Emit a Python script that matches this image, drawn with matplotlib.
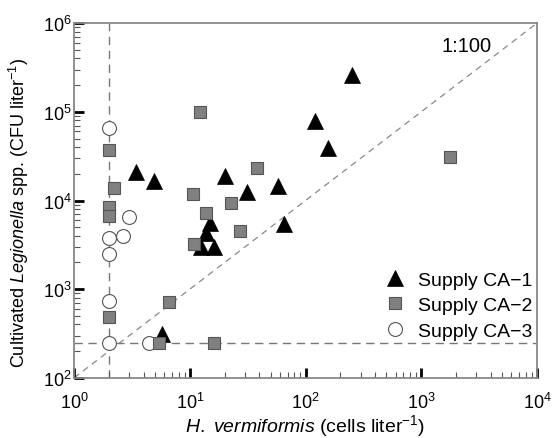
import matplotlib
matplotlib.use("Agg")
import matplotlib.pyplot as plt
import numpy as np

# Data
x_ca1 = [3.4, 4.9, 5.7, 12.5, 13.9, 14.9, 16.1, 20, 31, 58, 65, 120, 155, 250]
y_ca1 = [2.1e4, 1.67e4, 310, 3.0e3, 4.3e3, 5.6e3, 3.0e3, 1.87e4, 1.26e4, 1.47e4, 5.5e3, 7.9e4, 3.9e4, 2.6e5]

x_ca2 = [2.0, 2.0, 2.0, 2.0, 2.2, 5.4, 6.6, 10.7, 10.9, 12.2, 13.9, 16.3, 22.9, 27, 38, 1770]
y_ca2 = [3.7e4, 8.4e3, 6.7e3, 490, 1.4e4, 246, 725, 1.18e4, 3.24e3, 9.9e4, 7.2e3, 246, 9.3e3, 4.5e3, 2.3e4, 3.07e4]

x_ca3 = [2.0, 2.0, 2.0, 2.0, 2.0, 2.67, 2.97, 4.4]
y_ca3 = [6.5e4, 3.75e3, 2.5e3, 743, 246, 3.95e3, 6.5e3, 246]

labels = ["Supply CA\u22121", "Supply CA\u22122", "Supply CA\u22123"]
ratio = 100          # 1:100 line
x_limit_det = 2.0    # vertical detection limit
y_limit_det = 250    # horizontal detection limit

plt.rcParams['font.family'] = ['Liberation Sans', 'DejaVu Sans']
plt.rcParams['mathtext.fontset'] = 'custom'
plt.rcParams['mathtext.rm'] = 'Liberation Sans'
plt.rcParams['mathtext.it'] = 'Liberation Sans:italic'
plt.rcParams['mathtext.bf'] = 'Liberation Sans:bold'
plt.rcParams['font.size'] = 13

fig = plt.figure(figsize=(5.53, 4.39), dpi=100)
ax = fig.add_axes([0.134, 0.137, 0.837, 0.808])
ax.set_xscale('log')
ax.set_yscale('log')
ax.set_xlim(1, 1e4)
ax.set_ylim(1e2, 1e6)

dash_col = '#777777'
xl = np.array([1, 1e4])
ax.plot(xl, xl * ratio, ls=(0, (5, 4)), color='#888888', lw=0.9, zorder=1)
ax.axvline(x_limit_det, ls=(0, (6, 4)), color=dash_col, lw=1.0, zorder=1)
ax.axhline(y_limit_det, ls=(0, (6, 4)), color=dash_col, lw=1.0, zorder=1)

ax.plot(x_ca1, y_ca1, ls='none', marker='^', ms=11, mfc='black', mec='black', mew=0.5, label=labels[0], zorder=3)
ax.plot(x_ca2, y_ca2, ls='none', marker='s', ms=8, mfc='#808080', mec='#555555', mew=0.8, label=labels[1], zorder=3)
ax.plot(x_ca3, y_ca3, ls='none', marker='o', ms=10, mfc='white', mec='#555555', mew=0.8, label=labels[2], zorder=2)

ax.text(0.903, 0.963, "1:100", transform=ax.transAxes, ha='right', va='top', fontsize=14.5)

for s in ax.spines.values():
    s.set_color('#888888')
    s.set_linewidth(1.3)

ax.tick_params(which='major', direction='in', length=7, width=2, color='black',
               top=False, right=False, labelsize=13)
ax.tick_params(which='minor', direction='in', length=4, width=0.8, color='#555555',
               top=False, right=False)
ax.tick_params(axis='x', which='major', pad=10)
ax.tick_params(axis='y', which='major', pad=2)

ax.set_xlabel(r"$\mathit{H.}$ $\mathit{vermiformis}$ (cells liter$^{-1}$)", fontsize=14, labelpad=0)
ax.set_ylabel(r"Cultivated $\mathit{Legionella}$ spp. (CFU liter$^{-1}$)", fontsize=13)
ax.yaxis.set_label_coords(-0.093, 0.468)

leg = ax.legend(loc='lower right', bbox_to_anchor=(1.016, 0.075), frameon=False, fontsize=14,
                handlelength=1.0, handletextpad=0.7, labelspacing=0.4, borderaxespad=0.2)

fig.savefig('out.png', dpi=100)
